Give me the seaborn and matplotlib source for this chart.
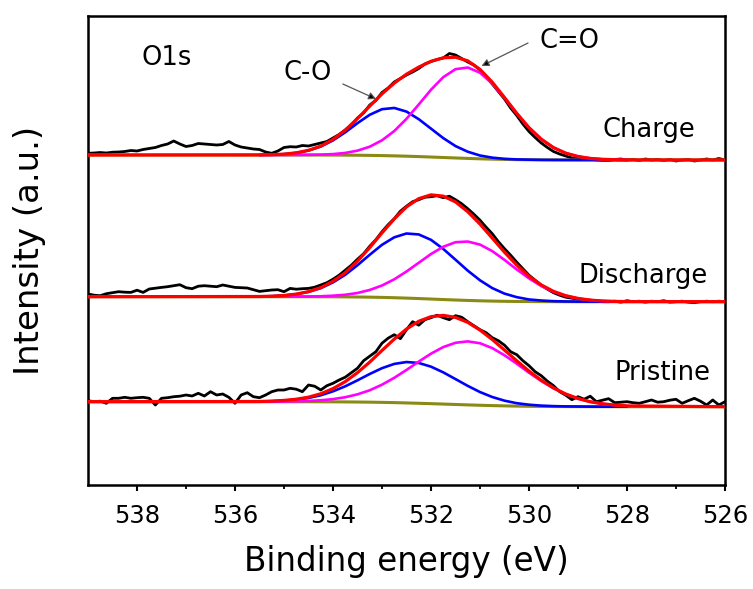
import numpy as np
import pandas as pd
import matplotlib
matplotlib.use("Agg")
import matplotlib.pyplot as plt
from matplotlib.ticker import FixedLocator
import seaborn as sns

# ---------------- data ----------------
# binding energy grid of the fitted curves (eV)
fit_be = [535.5, 535.25, 535.0, 534.75, 534.5, 534.25, 534.0, 533.75, 533.5, 533.25,
          533.0, 532.75, 532.5, 532.25, 532.0, 531.75, 531.5, 531.25, 531.0, 530.75,
          530.5, 530.25, 530.0, 529.75, 529.5, 529.25, 529.0, 528.75, 528.5, 528.25, 528.0]

# Charge
charge_bg = [0, 0, 0, -0.01, -0.02, -0.04, -0.08, -0.14, -0.24, -0.38, -0.59, -0.86, -1.19, -1.58,
             -2.03, -2.5, -2.97, -3.42, -3.81, -4.15, -4.42, -4.62, -4.76, -4.86, -4.92, -4.96,
             -4.98, -4.99, -5, -5, -5]
charge_CO = [0.1, 0.3, 0.85, 2.1, 4.5, 8.5, 14.7, 22.8, 32.1, 40.6, 46.4, 47.9, 44.6, 37.4, 28.4,
             19.4, 11.9, 6.7, 3.3, 1.5, 0.6, 0.2, 0.1, 0, 0, 0, 0, 0, 0, 0, 0]
charge_CdO = [0, 0, 0, 0.1, 0.2, 0.4, 1.0, 2.2, 4.6, 8.7, 15.3, 24.8, 37.4, 52.1, 67.3, 80.3, 88.8,
              90.9, 86.1, 75.5, 61.3, 46.1, 32.0, 20.7, 12.3, 6.8, 3.5, 1.6, 0.7, 0.3, 0.1]

# Discharge
discharge_bg = [0, 0, 0, -0.01, -0.02, -0.05, -0.09, -0.17, -0.29, -0.46, -0.7, -1.02, -1.4, -1.85,
                -2.34, -2.84, -3.31, -3.74, -4.1, -4.39, -4.61, -4.76, -4.86, -4.92, -4.96, -4.98,
                -5, -5, -5, -5, -5]
discharge_CO = [0.2, 0.5, 1.2, 2.5, 4.9, 8.6, 14.4, 22.1, 31.8, 42.4, 52.6, 60.4, 64.6, 64.1, 59.2,
                50.6, 40.3, 29.8, 20.5, 13.0, 7.7, 4.3, 2.1, 1.1, 0.5, 0.2, 0.1, 0, 0, 0, 0]
discharge_CdO = [0, 0, 0, 0.1, 0.2, 0.5, 1.1, 2.1, 4.0, 7.2, 11.9, 18.4, 26.6, 35.8, 45.0, 52.8,
                 57.8, 58.9, 56.2, 50.0, 41.4, 32.0, 23.2, 15.6, 9.8, 5.8, 3.2, 1.6, 0.7, 0.3, 0.1]

# Pristine
pristine_bg = [0, -0.01, -0.01, -0.03, -0.05, -0.08, -0.13, -0.21, -0.32, -0.47, -0.67, -0.92,
               -1.23, -1.58, -1.96, -2.36, -2.78, -3.18, -3.56, -3.9, -4.18, -4.41, -4.59, -4.73,
               -4.82, -4.89, -4.93, -4.96, -4.98, -4.99, -5]
pristine_CO = [0.2, 0.5, 1.1, 2.1, 3.8, 6.5, 10.5, 15.6, 21.7, 28.2, 34.2, 38.7, 40.9, 40.3, 37.0,
               31.7, 25.4, 19.0, 13.2, 8.6, 5.2, 2.9, 1.6, 0.8, 0.4, 0.2, 0.1, 0, 0, 0, 0]
pristine_CdO = [0, 0.1, 0.2, 0.4, 0.8, 1.5, 2.7, 4.7, 7.7, 11.9, 17.7, 24.8, 33.0, 41.7, 50.0, 57.0,
                61.7, 63.5, 62.0, 57.5, 50.6, 42.4, 33.6, 25.4, 18.2, 12.4, 8.0, 4.9, 2.9, 1.6, 0.8]

# measured spectra: 539.0 -> 526.0 eV in 0.125 eV steps (105 points)
charge_counts = [1.7, 2, 2.5, 2, 2.8, 3, 3.5, 4.5, 4, 5.5, 6.5, 7.5, 9.5, 11, 14, 11, 8.5, 9.5, 11.5, 11,
                 10.5, 10, 10.5, 13.5, 10, 8, 7, 6, 5.5,
                 3, 1.7, 4, 7.5, 8.3, 8, 9.5, 9, 10.5, 12, 13.5, 17, 20.5, 25, 30, 37, 42, 50, 54.5, 62.5,
                 67, 73, 76.5, 80, 83, 86.5, 91, 93.5, 95.5, 97, 101.5, 100, 96.5, 93, 90, 85, 78.5, 71,
                 63.5, 56, 47, 39.5, 31, 23.5, 17.5, 12, 7.5, 3.5, 1, -1, -3, -3.5, -4, -4.5, -5, -5.5,
                 -5.5, -4.5, -4, -5, -4.5, -5.5, -4, -5, -4.5, -5.5, -4.5, -6, -5, -4.5, -6, -5, -4, -5,
                 -3.5, -5]
discharge_counts = [2.7, 1.5, 1, 3, 4, 5, 4.5, 4.3, 6.5, 4.3, 7.7, 8.5, 9.3, 10, 11, 12, 9, 8, 10.5,
                    11, 10.5, 10, 11.7, 10.5, 9.3, 9, 8.7, 7, 5.3,
                    6, 6.7, 7, 5, 8.3, 7.5, 8, 8.3, 9.5, 11.7, 14, 17.5, 21.5, 26.5, 31.5, 37.5, 43,
                    50.5, 57, 65, 72, 78, 85.5, 90.5, 95, 97, 99.5, 100, 101, 99, 100.5, 97, 93, 88,
                    82.5, 76.5, 69.5, 63, 55, 48, 41.5, 34.5, 28, 21.5, 16.5, 11.5, 7.5, 4, 1.5, -0.5,
                    -1.5, -2.5, -3.5, -3.5, -4.5, -5,
                    -5, -4.5, -5.5, -4, -5, -4.5, -5.5, -4.5, -5, -4, -5.5, -5, -4.5, -5.5, -6, -5,
                    -4.5, -5, -4.5, -5]
pristine_counts = [1, 0, 0.5, -1.6, 3.4, 3.4, 4.4, 3.4, 4, 4.4, 3.4, -3.3, 3.4, 4, 5, 5.5, 6.7, 5.7,
                   8.4, 5.7, 10, 6.7, 7.7, 4.4, -1.6, 6.7, 9, 5, 4,
                   6.7, 10, 11.7, 11.7, 13.4, 12.5, 10, 16.7, 15.5, 11.7, 16, 18.4, 21.7, 24.5, 29,
                   33.5, 41, 45.5, 50, 58.5, 63.5, 67, 63, 72, 80, 76.5, 82, 84, 86.5, 84, 82, 86,
                   84.5, 80, 76, 72, 69, 64, 61, 56.5, 50, 47, 41, 36, 30, 26, 20.5, 16, 10, 6.5, 2, 5,
                   2.5, 5.5, 0, 1.5,
                   3, -1, -0.5, 0, -1, -1.6, 0, 1.7, -0.5, 0, 1.5, 2.4, -1.6, 1, 3.4, 0.5, -3.3, 1.7,
                   -3.3, 0]

spectra = ["Charge", "Discharge", "Pristine"]
xticks = [538, 536, 534, 532, 530, 528, 526]
xtick_labels = ["538", "536", "534", "532", "530", "528", "526"]

# ---------------- figure ----------------
sns.set_style("ticks")
plt.rcParams["font.family"] = ["DejaVu Sans"]
plt.rcParams["text.color"] = "black"
plt.rcParams["axes.labelcolor"] = "black"
plt.rcParams["xtick.color"] = "black"
plt.rcParams["ytick.color"] = "black"

W, H = 753, 589
fig = plt.figure(figsize=(W / 100, H / 100), dpi=100)
ax = fig.add_axes([88 / W, 1 - 485 / H, (725 - 88) / W, (485 - 16) / H])

data_be = np.linspace(539.0, 526.0, len(charge_counts))
fit_be_arr = np.array(fit_be)
full_be = np.concatenate([[539.0], fit_be_arr, [526.0]])

offsets = {"Charge": 330.0, "Discharge": 188.3, "Pristine": 83.3}
series = {
    "Charge": (charge_counts, charge_bg, charge_CO, charge_CdO),
    "Discharge": (discharge_counts, discharge_bg, discharge_CO, discharge_CdO),
    "Pristine": (pristine_counts, pristine_bg, pristine_CO, pristine_CdO),
}

for name in spectra:
    counts, bg, co, cdo = (np.array(v, dtype=float) for v in series[name])
    off = offsets[name]
    envelope = bg + co + cdo
    bg_full = np.concatenate([[bg[0]], bg, [bg[-1]]])
    env_full = np.concatenate([[bg[0]], envelope, [bg[-1]]])

    sns.lineplot(x=data_be, y=counts + off, color="black", linewidth=2.0, ax=ax, zorder=2)
    sns.lineplot(x=full_be, y=bg_full + off, color="#8a8a14", linewidth=2.2, ax=ax, zorder=3)
    sns.lineplot(x=fit_be_arr, y=bg + co + off, color="#0000ff", linewidth=1.9, ax=ax, zorder=3)
    sns.lineplot(x=fit_be_arr, y=bg + cdo + off, color="#ff00ff", linewidth=1.9, ax=ax, zorder=3)
    sns.lineplot(x=full_be, y=env_full + off, color="#ff0000", linewidth=2.3, ax=ax, zorder=4)

ax.set_xlim(539, 526)
ax.set_ylim(0, 469)
ax.set_yticks([])
ax.xaxis.set_major_locator(FixedLocator(xticks))
ax.set_xticklabels(xtick_labels)
ax.xaxis.set_minor_locator(FixedLocator([537, 535, 533, 531, 529, 527]))
ax.tick_params(axis="x", which="major", direction="out", length=4.5, width=1.5,
               labelsize=17.5, pad=9, colors="black")
ax.tick_params(axis="x", which="minor", direction="out", length=2.8, width=1.3)
for sp in ax.spines.values():
    sp.set_visible(True)
    sp.set_linewidth(1.8)
    sp.set_color("black")

ax.set_xlabel("Binding energy (eV)", fontsize=23.5, color="black")
ax.xaxis.set_label_coords(0.5, -0.128)
ax.set_ylabel("Intensity (a.u.)", fontsize=24.5, color="black")
ax.yaxis.set_label_coords(-0.066, 0.5)

# annotations
ax.text(537.9, 420, "O1s", fontsize=18.5, ha="left", va="baseline", color="black")
ax.text(534.51, 405, "C-O", fontsize=18.5, ha="center", va="baseline", color="black")
ax.text(529.18, 437, "C=O", fontsize=18.5, ha="center", va="baseline", color="black")
ax.text(527.56, 348, "Charge", fontsize=18.5, ha="center", va="baseline", color="black")
ax.text(527.67, 202, "Discharge", fontsize=18.5, ha="center", va="baseline", color="black")
ax.text(527.27, 105, "Pristine", fontsize=18.5, ha="center", va="baseline", color="black")

arrow_kw = dict(arrowstyle="-|>", color="#555555", lw=0.9, mutation_scale=11,
                shrinkA=0, shrinkB=0)
ax.annotate("", xy=(533.12, 386), xytext=(533.8, 401),
            arrowprops=dict(arrow_kw, fc="black"), zorder=6)
ax.annotate("", xy=(530.97, 419), xytext=(530.02, 442),
            arrowprops=dict(arrow_kw, fc="black"), zorder=6)

fig.savefig("out.png", dpi=100)
